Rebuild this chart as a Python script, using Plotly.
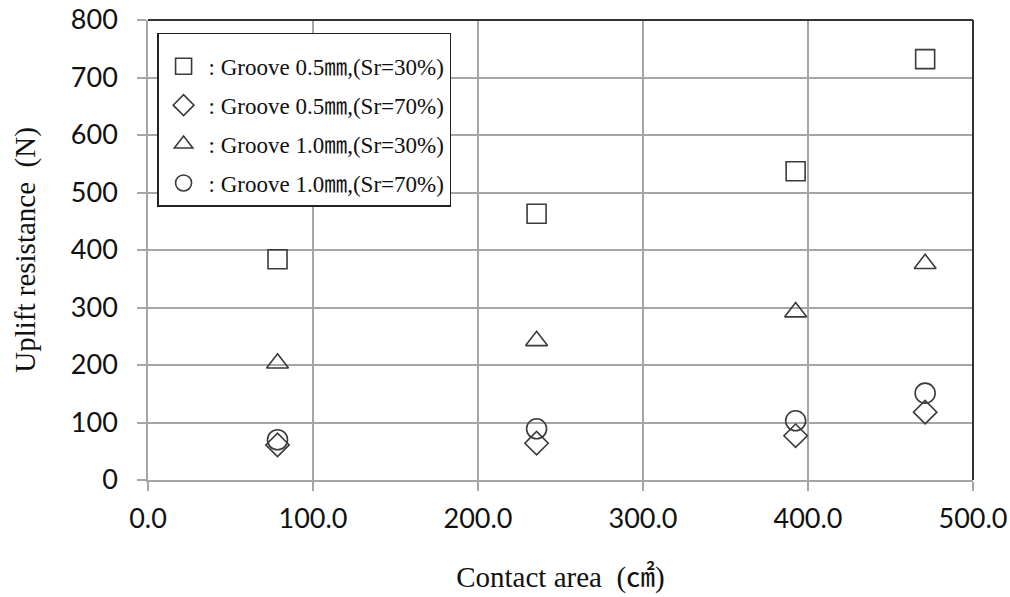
import plotly.graph_objects as go

contact_area = [78.5, 235.5, 392.5, 471.0]
groove05_sr30 = [384, 463, 537, 732]
groove05_sr70 = [61, 64, 77, 118]
groove10_sr30 = [203, 242, 292, 376]
groove10_sr70 = [70, 89, 103, 151]

series_names = [
    ": Groove 0.5㎜,(Sr=30%)",
    ": Groove 0.5㎜,(Sr=70%)",
    ": Groove 1.0㎜,(Sr=30%)",
    ": Groove 1.0㎜,(Sr=70%)",
]
x_ticks = [0, 100, 200, 300, 400, 500]
x_tick_labels = ["0.0", "100.0", "200.0", "300.0", "400.0", "500.0"]
y_ticks = [0, 100, 200, 300, 400, 500, 600, 700, 800]

series = [
    (groove05_sr30, "square-open", 19),
    (groove05_sr70, "diamond-open", 18),
    (groove10_sr30, "triangle-up-open", 19),
    (groove10_sr70, "circle-open", 20),
]

fig = go.Figure()
for i, (vals, sym, size) in enumerate(series):
    fig.add_trace(go.Scatter(
        x=contact_area, y=vals, mode="markers", name=series_names[i],
        legendgroup=f"g{i}",
        marker=dict(symbol=sym, size=size, color="#3a3a3a",
                    line=dict(color="#3a3a3a", width=1.6)),
    ))

tick_font = dict(family="Lato, 'Open Sans', sans-serif", size=27, color="#111111")
title_font = dict(family="'Liberation Serif', 'Noto Sans CJK KR', serif", size=29, color="#111111")

fig.update_layout(
    width=1010, height=597,
    margin=dict(l=148, r=37, t=20, b=117),
    paper_bgcolor="white", plot_bgcolor="white",
    showlegend=True,
    legend=dict(
        x=0.011, y=0.972, xanchor="left", yanchor="top",
        bordercolor="#222222", borderwidth=1.5, bgcolor="white",
        font=dict(family="'Liberation Serif', 'Noto Sans CJK KR', serif", size=23, color="#111111"),
        tracegroupgap=6, itemwidth=40,
        title=dict(text=" ", font=dict(size=8)),
    ),
    xaxis=dict(
        range=[0, 500], tickvals=x_ticks, ticktext=x_tick_labels,
        showgrid=True, gridcolor="#a6a6a6", gridwidth=1.5,
        showline=True, linecolor="#a6a6a6", linewidth=1.5,
        ticks="outside", ticklen=9, tickcolor="#a6a6a6", tickwidth=1.5,
        tickfont=tick_font, zeroline=False, automargin=False,
        ticklabelstandoff=5,
        title=dict(text="Contact area  (㎠)", font=title_font, standoff=34),
    ),
    yaxis=dict(
        range=[0, 800], tickvals=y_ticks,
        showgrid=True, gridcolor="#a6a6a6", gridwidth=1.5,
        showline=True, linecolor="#a6a6a6", linewidth=1.5,
        ticks="outside", ticklen=9, tickcolor="#a6a6a6", tickwidth=1.5,
        tickfont=tick_font, zeroline=False, automargin=False,
        ticklabelstandoff=14,
        title=dict(text="Uplift resistance  (N)", font=title_font, standoff=27),
    ),
    shapes=[
        dict(type="line", xref="paper", yref="paper", x0=0, x1=1, y0=1, y1=1,
             line=dict(color="#333333", width=2)),
        dict(type="line", xref="paper", yref="paper", x0=1, x1=1, y0=0, y1=1,
             line=dict(color="#333333", width=2)),
    ],
)

fig.write_html("out.html", config={"displayModeBar": False},
               post_script="document.body.style.margin='0';")
